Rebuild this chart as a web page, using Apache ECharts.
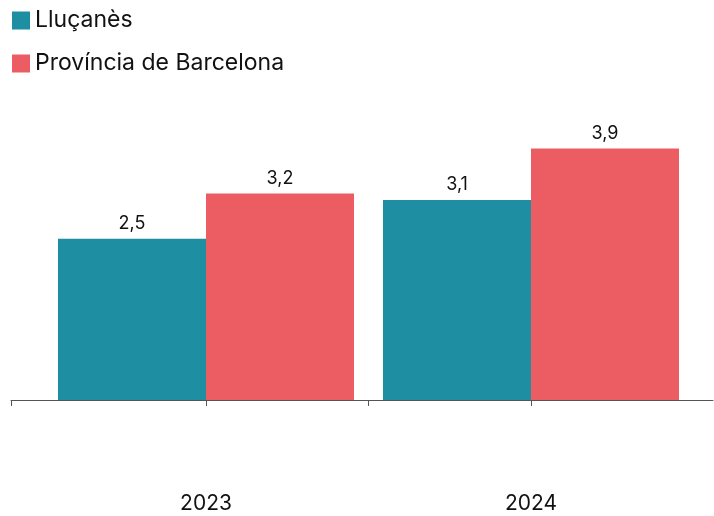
<html>
<head>
<meta charset="utf-8">
<script src="https://cdn.jsdelivr.net/npm/echarts@6/dist/echarts.min.js"></script>
</head>
<body style="margin:0">
<div id="chart" style="width: 714px; height: 516px;"></div>
<script>
var years = ['2023', '2024']
var seriesNames = ['Lluçanès', 'Província de Barcelona']
var llucanes = [2.5, 3.1]
var barcelona = [3.2, 3.9]
var colors = ['#1e8ea2', '#eb5c63']

var chart = echarts.init(document.getElementById('chart'));

// years sit at x = 0, 1 on a value axis so the ticks can be placed freely
function pairs(vals) {
    return vals.map(function (v, i) { return [i, v] })
}

function labelFmt(p) {
    return String(p.value[1]).replace('.', ',')
}

var option = {
    animation: false,
    textStyle: { fontFamily: 'Inter, Liberation Sans, Arial, sans-serif' },
    legend: {
        orient: 'vertical',
        left: 12,
        top: 9,
        padding: 0,
        icon: 'rect',
        itemWidth: 18,
        itemHeight: 18,
        itemGap: 20,
        textStyle: { fontSize: 23, lineHeight: 20, color: '#111' },
        data: seriesNames
    },
    grid: { left: 11, right: 1, top: 142, bottom: 116, outerBoundsMode: 'none' },
    xAxis: {
        type: 'value',
        min: -0.6,
        max: 1.56,
        splitLine: { show: false },
        axisLine: { show: true, lineStyle: { color: '#555', width: 1 } },
        axisTick: { show: true, length: 6, lineStyle: { color: '#555' }, customValues: [-0.6, 0, 0.5, 1] },
        axisLabel: {
            customValues: [0, 1],
            margin: 93,
            fontSize: 21,
            color: '#111',
            formatter: function (v) { return years[Math.round(v)] }
        }
    },
    yAxis: { type: 'value', min: 0, max: 4, show: false, splitLine: { show: false } },
    series: [
        {
            name: seriesNames[0],
            type: 'bar',
            barWidth: 148,
            barGap: '0%',
            itemStyle: { color: colors[0] },
            label: { show: true, position: 'top', distance: 6, fontSize: 18, color: '#111', formatter: labelFmt },
            data: pairs(llucanes)
        },
        {
            name: seriesNames[1],
            type: 'bar',
            barWidth: 148,
            barGap: '0%',
            itemStyle: { color: colors[1] },
            label: { show: true, position: 'top', distance: 6, fontSize: 18, color: '#111', formatter: labelFmt },
            data: pairs(barcelona)
        }
    ]
};
chart.setOption(option);
</script>
</body>
</html>
